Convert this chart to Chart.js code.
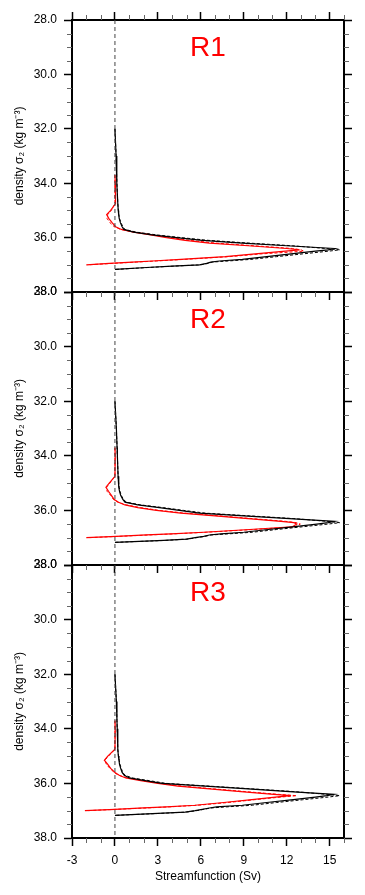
<!DOCTYPE html>
<html>
<head>
<meta charset="utf-8">
<script src="https://cdn.jsdelivr.net/npm/chart.js@4.4.1/dist/chart.umd.min.js"></script>
<style>
  body { margin: 0; background: #fff; }
  #wrap { position: relative; width: 365px; height: 895px; }
  canvas { position: absolute; left: 0; top: 0; }
</style>
</head>
<body>
<div id="wrap">
  <canvas id="r1" width="365" height="895"></canvas>
  <canvas id="r2" width="365" height="895"></canvas>
  <canvas id="r3" width="365" height="895"></canvas>
</div>
<script>
// density levels (sigma2, kg m-3) shared by all curves
const sigma2Levels = [32.0, 33.0, 33.7, 34.0, 34.75, 35.0, 35.15, 35.3, 35.45, 35.6,
  35.7, 35.8, 35.9, 36.0, 36.1, 36.2, 36.3, 36.4, 36.45, 36.5,
  36.6, 36.7, 36.8, 36.86, 36.9, 36.95, 37.0, 37.05, 37.1, 37.17];

// streamfunction (Sv) at each level
const r1BlackSolid  = [0.0, 0.08, 0.12, 0.14, 0.2, 0.23, 0.26, 0.3, 0.38, 0.5, 0.62, 1.3, 2.6, 4.3, 6.1, 8.9, 12.0, 15.35, 14.9, 14.0, 12.3, 10.6, 8.9, 7.3, 6.7, 6.4, 5.9, 4.0, 2.2, 0.0];
const r1BlackDashed = [0.0, 0.08, 0.12, 0.14, 0.2, 0.24, 0.27, 0.32, 0.42, 0.55, 0.7, 1.5, 2.9, 4.6, 6.5, 9.3, 12.4, 14.7, 15.7, 14.9, 13.1, 11.3, 9.5, 7.9, 6.8, 6.5, 6.0, 4.1, 2.3, 0.05];
const r1RedSolid    = [null, null, 0.0, 0.02, 0.04, -0.3, -0.58, -0.42, -0.2, 0.05, 0.45, 1.3, 2.5, 3.6, 4.9, 6.6, 9.3, 12.0, 12.9, 11.9, 9.8, 7.7, 4.6, 2.6, 1.2, -0.4, -2.0, null, null, null];
const r1RedDashed   = [null, null, 0.0, 0.0, 0.0, -0.25, -0.5, -0.55, -0.35, -0.05, 0.4, 1.4, 2.7, 3.9, 5.2, 7.0, 9.7, 12.4, 13.0, 13.2, 10.2, 8.0, 4.9, 2.9, 1.5, -0.2, -1.9, null, null, null];

const r2BlackSolid  = [0.0, 0.1, 0.15, 0.17, 0.22, 0.25, 0.28, 0.32, 0.4, 0.55, 0.7, 1.6, 3.1, 4.5, 5.9, 9.0, 12.2, 15.35, 14.9, 14.1, 12.4, 10.7, 9.0, 7.4, 6.6, 6.2, 5.6, 5.0, 3.4, 0.0];
const r2BlackDashed = [0.0, 0.1, 0.15, 0.17, 0.22, 0.26, 0.3, 0.35, 0.44, 0.6, 0.8, 1.8, 3.4, 4.8, 6.3, 9.4, 12.5, 14.8, 15.7, 14.9, 13.1, 11.3, 9.6, 7.9, 6.7, 6.3, 5.7, 5.1, 3.5, 0.05];
const r2RedSolid    = [null, null, 0.0, 0.02, 0.0, -0.4, -0.63, -0.45, -0.25, -0.05, 0.25, 0.7, 1.6, 2.9, 4.6, 7.0, 9.3, 11.6, 12.5, 12.7, 12.4, 9.4, 6.2, 3.9, 2.2, 0.1, -2.0, null, null, null];
const r2RedDashed   = [null, null, 0.0, 0.0, 0.0, -0.35, -0.58, -0.55, -0.3, -0.1, 0.2, 0.8, 1.8, 3.1, 4.9, 7.3, 9.6, 11.9, 12.7, 12.95, 12.6, 9.7, 6.4, 4.1, 2.4, 0.3, -1.9, null, null, null];

const r3BlackSolid  = [0.0, 0.1, 0.14, 0.16, 0.2, 0.24, 0.28, 0.32, 0.4, 0.5, 0.65, 1.0, 2.1, 3.3, 6.3, 9.3, 12.2, 15.3, 14.8, 14.0, 12.3, 10.6, 8.9, 7.1, 6.6, 6.1, 5.6, 4.9, 3.0, 0.0];
const r3BlackDashed = [0.0, 0.1, 0.14, 0.16, 0.2, 0.25, 0.3, 0.35, 0.44, 0.55, 0.7, 1.2, 2.4, 3.6, 6.6, 9.6, 12.5, 14.8, 15.7, 14.9, 13.1, 11.3, 9.6, 7.8, 6.7, 6.2, 5.7, 5.0, 3.1, 0.05];
const r3RedSolid    = [null, null, 0.0, 0.02, 0.0, -0.5, -0.74, -0.5, -0.3, 0.0, 0.3, 0.75, 1.8, 3.0, 4.4, 6.6, 8.8, 11.1, 12.3, 11.2, 9.4, 7.6, 5.6, 3.6, 2.0, 0.0, -2.1, null, null, null];
const r3RedDashed   = [null, null, 0.0, 0.0, 0.0, -0.45, -0.7, -0.6, -0.35, -0.05, 0.25, 0.85, 2.0, 3.2, 4.7, 6.9, 9.1, 11.4, 12.7, 11.6, 9.7, 7.9, 5.8, 3.8, 2.2, 0.1, -2.0, null, null, null];

const panelNames = ['R1', 'R2', 'R3'];
const xMajorTicks = [-3, 0, 3, 6, 9, 12, 15];
const yMajorTicks = [28, 30, 32, 34, 36, 38];
const xRange = [-3, 16];
const yRange = [28, 38];

Chart.defaults.font.family = '"Liberation Sans", Arial, sans-serif';
Chart.defaults.font.size = 12;
Chart.defaults.color = '#000';

const isMajorX = v => xMajorTicks.includes(Math.round(v * 100) / 100);
const isMajorY = v => yMajorTicks.includes(Math.round(v * 100) / 100);

function toPoints(vals) {
    return sigma2Levels
        .map((s, i) => ({ x: vals[i], y: s }))
        .filter(p => p.x !== null);
}

// short grey minor ticks, drawn at the scale's own tick positions
const minorTicks = {
    id: 'minorTicks',
    afterDraw(chart) {
        const ctx = chart.ctx;
        ctx.save();
        ctx.strokeStyle = '#666';
        ctx.lineWidth = 1;
        Object.values(chart.scales).forEach(s => {
            const major = s.axis === 'x' ? isMajorX : isMajorY;
            s.ticks.forEach(t => {
                if (major(t.value)) return;
                const p = Math.round(s.getPixelForValue(t.value)) + 0.5;
                ctx.beginPath();
                if (s.position === 'left') { ctx.moveTo(s.right, p); ctx.lineTo(s.right - 5, p); }
                if (s.position === 'right') { ctx.moveTo(s.left, p); ctx.lineTo(s.left + 5, p); }
                if (s.position === 'bottom') { ctx.moveTo(p, s.top); ctx.lineTo(p, s.top + 5); }
                if (s.position === 'top') { ctx.moveTo(p, s.bottom); ctx.lineTo(p, s.bottom - 5); }
                ctx.stroke();
            });
        });
        ctx.restore();
    }
};

// red panel name inside the plot
const panelLabel = {
    id: 'panelLabel',
    afterDatasetsDraw(chart, args, opts) {
        const ctx = chart.ctx;
        const area = chart.chartArea;
        ctx.save();
        ctx.font = '28px "Liberation Sans", Arial, sans-serif';
        ctx.fillStyle = '#ff0000';
        ctx.textAlign = 'center';
        ctx.textBaseline = 'middle';
        ctx.fillText(opts.text, (area.left + area.right) / 2, chart.scales.y.getPixelForValue(opts.y));
        ctx.restore();
    }
};

function gridOpts(axis) {
    const major = axis === 'x' ? isMajorX : isMajorY;
    return {
        drawOnChartArea: false,
        drawTicks: true,
        tickLength: 8,
        tickWidth: 1.5,
        tickColor: c => (c.tick && major(c.tick.value)) ? '#000' : 'rgba(0,0,0,0)'
    };
}
const borderOpts = { display: true, color: '#000', width: 2 };

function makePanel(id, idx, blackSolid, blackDashed, redSolid, redDashed) {
    const isFirst = idx === 0;
    const isLast = idx === 2;
    const top = [20, 292, 565][idx];
    const bottom = [292, 565, 838][idx];
    const xAxisH = isLast ? 50 : 8;

    const scales = {
        x: {
            type: 'linear', position: 'bottom', min: xRange[0], max: xRange[1],
            ticks: {
                stepSize: 1, autoSkip: false, maxRotation: 0, display: isLast, padding: 7,
                callback: v => isMajorX(v) ? String(v) : ''
            },
            grid: gridOpts('x'),
            border: borderOpts,
            title: { display: isLast, text: 'Streamfunction (Sv)', padding: { top: 0, bottom: 4 } },
            afterFit: s => { s.height = xAxisH; }
        },
        y: {
            type: 'linear', position: 'left', reverse: true, min: yRange[0], max: yRange[1],
            ticks: {
                stepSize: 0.5, autoSkip: false, padding: 7,
                callback: v => isMajorY(v) ? v.toFixed(1) : ''
            },
            grid: gridOpts('y'),
            border: borderOpts,
            title: { display: true, text: 'density σ₂ (kg m⁻³)', padding: { top: 12, bottom: 0 } },
            afterFit: s => { s.width = 72; }
        },
        yRight: {
            type: 'linear', position: 'right', reverse: true, min: yRange[0], max: yRange[1],
            ticks: { stepSize: 0.5, autoSkip: false, display: false },
            grid: gridOpts('y'),
            border: borderOpts,
            afterFit: s => { s.width = 8; }
        }
    };
    if (isFirst) {
        scales.xTop = {
            type: 'linear', position: 'top', min: xRange[0], max: xRange[1],
            ticks: { stepSize: 1, autoSkip: false, display: false },
            grid: gridOpts('x'),
            border: borderOpts,
            afterFit: s => { s.height = 8; }
        };
    }

    const line = { showLine: true, pointRadius: 0, tension: 0, fill: false, xAxisID: 'x', yAxisID: 'y' };

    new Chart(document.getElementById(id), {
        type: 'scatter',
        data: {
            datasets: [
                { ...line, data: [{ x: 0, y: yRange[0] }, { x: 0, y: yRange[1] }], borderColor: '#444', borderWidth: 1, borderDash: [4, 3] },
                { ...line, data: toPoints(blackDashed), borderColor: '#000', borderWidth: 1, borderDash: [3, 2] },
                { ...line, data: toPoints(blackSolid), borderColor: '#000', borderWidth: 1.2 },
                { ...line, data: toPoints(redDashed), borderColor: '#ff0000', borderWidth: 1, borderDash: [3, 2] },
                { ...line, data: toPoints(redSolid), borderColor: '#ff0000', borderWidth: 1.2 }
            ]
        },
        options: {
            responsive: false,
            animation: false,
            layout: {
                padding: {
                    left: 0, right: 13,
                    top: isFirst ? top - 8 : top,
                    bottom: 895 - bottom - xAxisH
                }
            },
            plugins: {
                legend: { display: false },
                tooltip: { enabled: false },
                panelLabel: { text: panelNames[idx], y: 29.05 }
            },
            scales: scales
        },
        plugins: [minorTicks, panelLabel]
    });
}

makePanel('r1', 0, r1BlackSolid, r1BlackDashed, r1RedSolid, r1RedDashed);
makePanel('r2', 1, r2BlackSolid, r2BlackDashed, r2RedSolid, r2RedDashed);
makePanel('r3', 2, r3BlackSolid, r3BlackDashed, r3RedSolid, r3RedDashed);
</script>
</body>
</html>
